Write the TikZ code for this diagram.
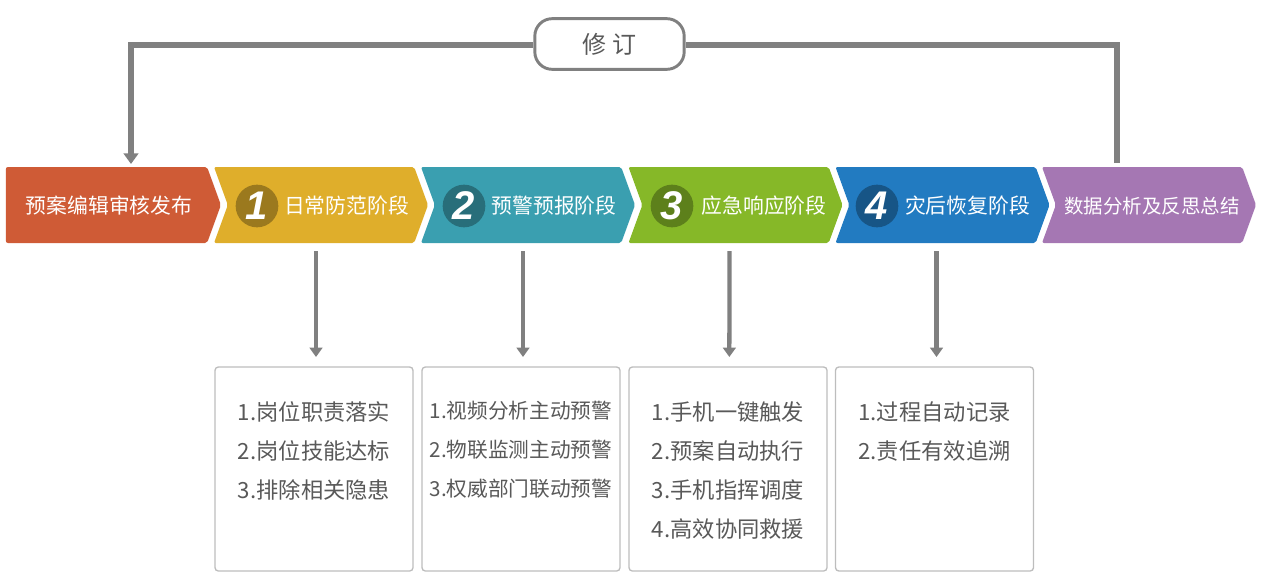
\documentclass[tikz,border=0pt]{standalone}
\usepackage{fontspec}
\setmainfont{Noto Sans CJK SC}
\newfontfamily\numfont{Liberation Sans}
\usetikzlibrary{arrows.meta,shapes.symbols}
\definecolor{linegray}{HTML}{808080}
\definecolor{textgray}{HTML}{595959}
\definecolor{boxgray}{HTML}{BDBDBD}
\definecolor{stagered}{HTML}{CF5B36}
\definecolor{stageyellow}{HTML}{DFAE2B}
\definecolor{stageteal}{HTML}{3A9FB0}
\definecolor{stagegreen}{HTML}{86B828}
\definecolor{stageblue}{HTML}{227BC1}
\definecolor{stagepurple}{HTML}{A577B3}
\tikzset{
  stage/.style={signal,signal to=east,signal pointer angle=140,rounded corners=1.5pt,
    minimum width=160.5pt,minimum height=57pt,inner sep=0pt,outer sep=0pt},
  stagetext/.style={text=white,font=\fontsize{15.6}{18}\selectfont},
  numdisc/.style={circle,fill=black,fill opacity=.3,text opacity=1,text=white,minimum size=32pt,inner sep=0pt,
    font=\numfont\bfseries\itshape\fontsize{30}{30}\selectfont},
  listbox/.style={draw=boxgray,line width=1pt,rounded corners=2.5pt,fill=white,
    minimum width=148.5pt,minimum height=153pt,inner sep=0pt,outer sep=0pt},
  listtext/.style={anchor=north,align=left,text=textgray,inner sep=0pt},
  flow/.style={draw=linegray,line width=3.2pt,-{Triangle[length=7pt,width=9.5pt]}},
  flowline/.style={draw=linegray,line width=4pt}
}
\begin{document}
\begin{tikzpicture}[x=.75pt,y=-.75pt]
\useasboundingbox (0,0) rectangle (1262,575);

% revise label
\node[draw=linegray,line width=2.2pt,rounded corners=13pt,minimum width=112pt,minimum height=38pt,
  text=textgray,font=\fontsize{18}{20}\selectfont] (revise) at (609.5,44) {修 订};

% chevrons
\node[stage,signal from=nowhere,fill=stagered,minimum width=161.25pt] (edit) at (106.5,205) {};
\foreach \name/\cx/\col in {daily/321/stageyellow,warn/528/stageteal,react/735.5/stagegreen,recover/942.5/stageblue,review/1149/stagepurple}
    \node[stage,signal from=west,fill=\col] (\name) at (\cx,205) {};

\node[stagetext] (txtedit) at (109,206) {预案编辑审核发布};
\node[stagetext] (txtdaily) at (346.5,206) {日常防范阶段};
\node[stagetext] (txtwarn) at (554,206) {预警预报阶段};
\node[stagetext] (txtreact) at (764,206) {应急响应阶段};
\node[stagetext] (txtrecover) at (967.5,206) {灾后恢复阶段};
\node[stagetext,font=\fontsize{14.6}{18}\selectfont] (txtreview) at (1152,206) {数据分析及反思总结};

\foreach \n/\cx in {1/257,2/464,3/672,4/877}
    \node[numdisc] (num\n) at (\cx,206) {\n};

% list boxes
\foreach \n/\cx in {1/314,2/521,3/728,4/934.5}
    \node[listbox] (box\n) at (\cx,469) {};

\node[listtext,font=\fontsize{16.7}{29.25}\selectfont] (list1) at ([yshift=-25.5pt]box1.north) {1.岗位职责落实\\2.岗位技能达标\\3.排除相关隐患};
\node[listtext,font=\fontsize{15.5}{29.25}\selectfont] (list2) at ([yshift=-25.5pt]box2.north) {1.视频分析主动预警\\2.物联监测主动预警\\3.权威部门联动预警};
\node[listtext,font=\fontsize{16.7}{29.25}\selectfont] (list3) at ([yshift=-25.5pt]box3.north) {1.手机一键触发\\2.预案自动执行\\3.手机指挥调度\\4.高效协同救援};
\node[listtext,font=\fontsize{16.7}{29.25}\selectfont] (list4) at ([yshift=-25.5pt]box4.north) {1.过程自动记录\\2.责任有效追溯};

% stage to list
\draw[flow] ([shift={(-3.75pt,-6pt)}]daily.south) -- ([shift={(1.5pt,7.5pt)}]box1.north);
\draw[flow] ([shift={(-3.75pt,-6pt)}]warn.south) -- ([shift={(1.5pt,7.5pt)}]box2.north);
\draw[flow] ([shift={(-4.5pt,-6pt)}]react.south) -- ([shift={(1pt,7.5pt)}]box3.north);
\draw[flow] ([shift={(-4.5pt,-6pt)}]recover.south) -- ([shift={(1.5pt,7.5pt)}]box4.north);

% feedback
\coordinate (backup) at (1117,45);
\coordinate (backleft) at (131,45);
\coordinate (backdown) at (131,164);
\draw[flowline] ([shift={(-24pt,3pt)}]review.north) -- (backup) -- (revise.east |- backup);
\draw[flowline,-{Triangle[length=8pt,width=11pt]}] (revise.west |- backleft) -- (backleft) -- (backdown);
\end{tikzpicture}
\end{document}
